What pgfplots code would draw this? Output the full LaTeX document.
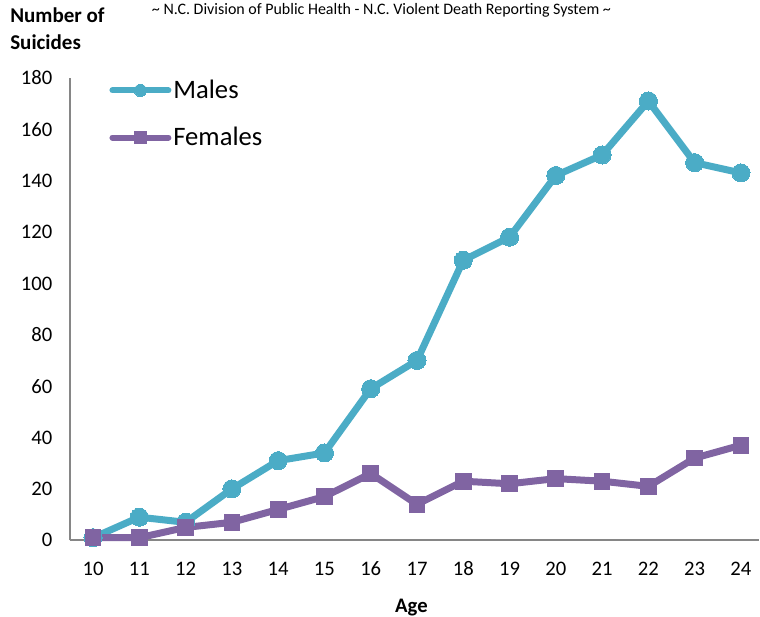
\documentclass[border=0pt]{standalone}
\usepackage{fontspec}
\setmainfont{Carlito}
\usepackage{pgfplots}
\pgfplotsset{compat=1.18}
\definecolor{males}{HTML}{4BACC6}
\definecolor{females}{HTML}{8064A2}
\definecolor{axgray}{HTML}{868686}
\begin{document}
\begin{tikzpicture}
\path (0,0) rectangle (570pt,462.75pt);
\begin{axis}[
  at={(52.5pt,57pt)}, anchor=origin,
  scale only axis, width=517.5pt, height=347.25pt,
  xmin=9.5, xmax=24.39, ymin=0, ymax=180,
  axis x line=bottom, axis y line=left,
  axis line style={-, axgray, line width=1.5pt},
  xtick={10,...,24}, ytick={0,20,...,180},
  major tick length=0pt,
  /pgf/number format/assume math mode=true,
  tick label style={font=\fontsize{15.5}{18}\selectfont, text=black},
  yticklabel style={anchor=east, inner sep=0pt, xshift=-13pt},
  xticklabel style={anchor=north, inner sep=0pt, yshift=-16pt},
  clip=false,
  legend style={draw=none, fill=none, at={(0.057,1.0)}, anchor=north west,
    font=\fontsize{20}{24}\selectfont, row sep=17pt, inner sep=0pt,
    nodes={inner sep=1.5pt}},
  legend cell align=left,
  legend image code/.code={\draw[mark repeat=2,mark phase=2,#1, line width=4.5pt, line cap=round, mark size=4.6pt] plot coordinates {(0pt,0pt)(21pt,0pt)(42pt,0pt)};},
]
\addplot[color=males, line width=5.25pt, line join=round, mark=*, mark size=6.8pt, mark options={line width=0pt, fill=males}] coordinates {
(10,1) (11,9) (12,7) (13,20) (14,31) (15,34) (16,59) (17,70) (18,109) (19,118) (20,142) (21,150) (22,171) (23,147) (24,143)};
\addlegendentry{Males}
\addplot[color=females, line width=5.25pt, line join=round, mark=square*, mark size=5.9pt, mark options={line width=0pt, fill=females}] coordinates {
(10,1) (11,1) (12,5) (13,7) (14,12) (15,17) (16,26) (17,14) (18,23) (19,22) (20,24) (21,23) (22,21) (23,32) (24,37)};
\addlegendentry{Females}
\end{axis}
\node[anchor=north west, align=left, inner sep=0pt, font=\bfseries\fontsize{15.8}{20.5}\selectfont] at (7.5pt,457pt) {Number of\\Suicides};
\node[anchor=center, inner sep=0pt, font=\fontsize{12}{15}\selectfont] at (286.5pt,455pt) {\textasciitilde{} N.C. Division of Public Health - N.C. Violent Death Reporting System \textasciitilde};
\node[anchor=center, inner sep=0pt, font=\bfseries\fontsize{15.5}{18}\selectfont] at (309pt,6.5pt) {Age};
\end{tikzpicture}
\end{document}
